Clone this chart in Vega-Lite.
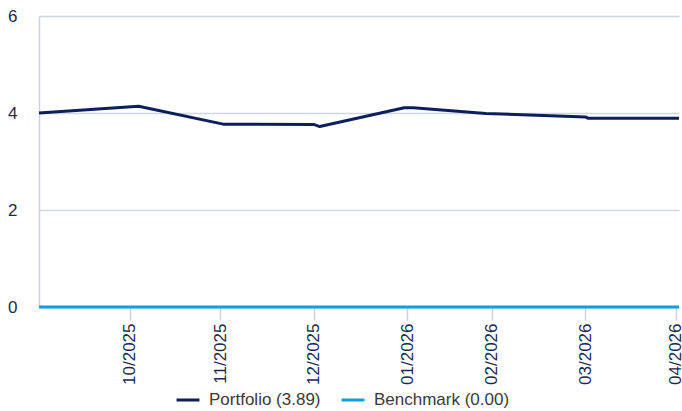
{
  "$schema": "https://vega.github.io/schema/vega-lite/v6.json",
  "width": 640,
  "height": 291,
  "autosize": {"type": "none"},
  "padding": {"left": 39, "top": 16, "right": 3, "bottom": 104},
  "background": "#ffffff",
  "config": {
    "view": {"stroke": null},
    "font": "Liberation Sans"
  },
  "data": {
    "values": [
      {"date": "2025-10-01", "value": 4.00, "series": "Portfolio (3.89)"},
      {"date": "2025-11-03", "value": 4.14, "series": "Portfolio (3.89)"},
      {"date": "2025-12-01", "value": 3.77, "series": "Portfolio (3.89)"},
      {"date": "2025-12-31", "value": 3.765, "series": "Portfolio (3.89)"},
      {"date": "2026-01-02", "value": 3.72, "series": "Portfolio (3.89)"},
      {"date": "2026-01-30", "value": 4.11, "series": "Portfolio (3.89)"},
      {"date": "2026-02-02", "value": 4.11, "series": "Portfolio (3.89)"},
      {"date": "2026-02-26", "value": 3.99, "series": "Portfolio (3.89)"},
      {"date": "2026-03-31", "value": 3.92, "series": "Portfolio (3.89)"},
      {"date": "2026-04-01", "value": 3.89, "series": "Portfolio (3.89)"},
      {"date": "2026-05-01", "value": 3.89, "series": "Portfolio (3.89)"},
      {"date": "2025-10-01", "value": 0.0, "series": "Benchmark (0.00)"},
      {"date": "2026-05-01", "value": 0.0, "series": "Benchmark (0.00)"}
    ]
  },
  "mark": {"type": "line", "strokeWidth": 3, "strokeJoin": "round", "clip": false},
  "encoding": {
    "x": {
      "field": "date",
      "type": "temporal",
      "scale": {
        "type": "utc",
        "domain": [
          {"year": 2025, "month": 10, "date": 1, "utc": true},
          {"year": 2026, "month": 5, "date": 1, "utc": true}
        ]
      },
      "axis": {
        "title": null,
        "values": [
          {"year": 2025, "month": 10, "date": 31, "utc": true},
          {"year": 2025, "month": 11, "date": 30, "utc": true},
          {"year": 2025, "month": 12, "date": 31, "utc": true},
          {"year": 2026, "month": 1, "date": 31, "utc": true},
          {"year": 2026, "month": 2, "date": 28, "utc": true},
          {"year": 2026, "month": 3, "date": 31, "utc": true},
          {"year": 2026, "month": 4, "date": 30, "utc": true}
        ],
        "labelExpr": "utcFormat(datum.value, '%m/%Y')",
        "labelAngle": -90,
        "labelFont": "Liberation Sans",
        "labelFontSize": 17,
        "labelColor": "#1b2a50",
        "labelPadding": 3,
        "labelOverlap": false,
        "labelBound": false,
        "labelFlush": false,
        "domain": false,
        "grid": false,
        "ticks": true,
        "tickSize": 13,
        "tickWidth": 1.5,
        "tickColor": "#c9d3e3"
      }
    },
    "y": {
      "field": "value",
      "type": "quantitative",
      "scale": {"domain": [0, 6], "nice": false, "zero": true},
      "axis": {
        "title": null,
        "values": [0, 2, 4, 6],
        "labelFont": "Liberation Sans",
        "labelFontSize": 17,
        "labelColor": "#1b2a50",
        "labelPadding": 22,
        "ticks": false,
        "domain": true,
        "domainColor": "#c9d3e3",
        "domainWidth": 1.5,
        "grid": true,
        "gridColor": "#cdd6e5",
        "gridWidth": 1.5
      }
    },
    "color": {
      "field": "series",
      "type": "nominal",
      "scale": {
        "domain": ["Portfolio (3.89)", "Benchmark (0.00)"],
        "range": ["#0c1f5a", "#0aa0e0"]
      },
      "legend": {
        "title": null,
        "orient": "none",
        "legendX": 136,
        "legendY": 371,
        "direction": "horizontal",
        "padding": 0,
        "symbolType": "stroke",
        "symbolSize": 529,
        "symbolStrokeWidth": 3,
        "labelFont": "Liberation Sans",
        "labelFontSize": 17,
        "labelColor": "#3a3a3a",
        "labelOffset": 8,
        "columnPadding": 14
      }
    }
  }
}
